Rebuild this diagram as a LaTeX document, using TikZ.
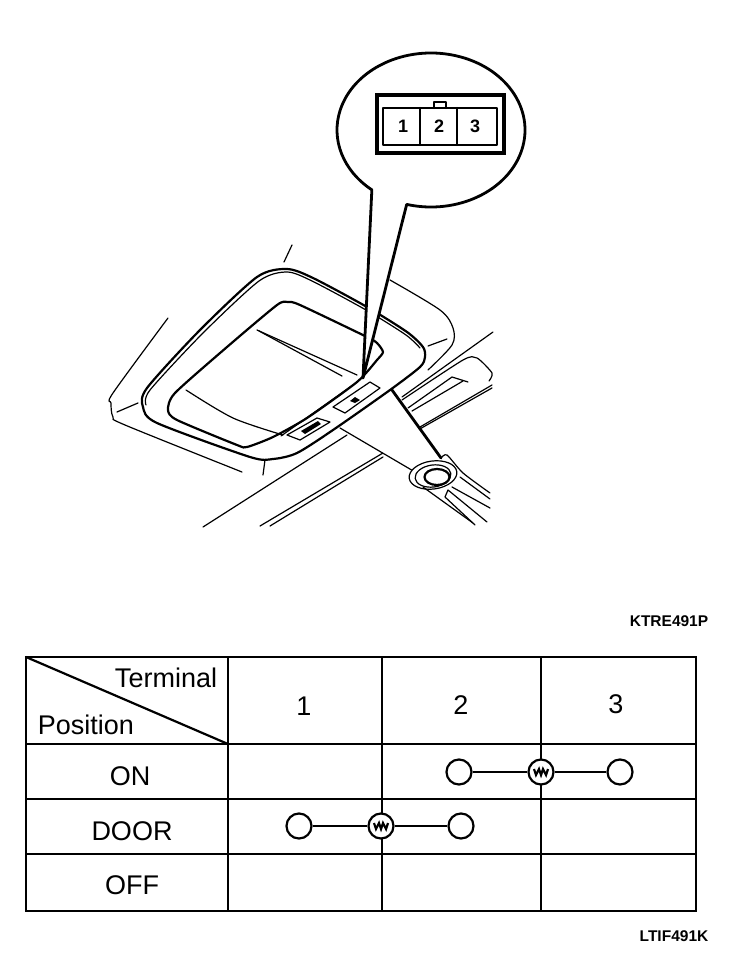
\documentclass[tikz,border=0pt]{standalone}
\usepackage{fontspec}
\setmainfont{Liberation Sans}
\usetikzlibrary{calc}
\tikzstyle{TableText}=[inner sep=0pt,font=\fontsize{27}{30}\selectfont]
\tikzstyle{CodeText}=[inner sep=0pt,font=\bfseries\fontsize{15.5}{18}\selectfont]
\tikzstyle{PinText}=[inner sep=0pt,font=\bfseries\fontsize{18}{20}\selectfont]
\tikzstyle{TableLine}=[line width=2.8pt]
\tikzstyle{NodeTerm}=[circle,draw,fill=white,line width=2.2pt,inner sep=0pt,minimum size=25pt]
\tikzstyle{NodeLamp}=[NodeTerm,path picture={
    \fill[shift={(path picture bounding box.center)}](-10,-8)rectangle(10,-2);
    \draw[shift={(path picture bounding box.center)},line width=2.2pt](-7,-3)--(-5,3)--(-2,-3)--(0,3)--(2,-3)--(5,3)--(7,-3);}]
\tikzstyle{EdgeTerm}=[line width=2.4pt]
\tikzstyle{Thin}=[line width=1.2pt,line join=round,line cap=round]
\tikzstyle{Mid}=[line width=2.2pt,line join=round,line cap=round]
\tikzstyle{Bold}=[line width=2.8pt,line join=round,line cap=round]
\begin{document}
\begin{tikzpicture}[x=1pt,y=-1pt]
    \useasboundingbox(0,0)rectangle(752,958);
    \draw[Thin](292,245)--(284,262);
    \draw[Thin]plot[smooth,tension=.5]coordinates{(168,318)(113,393)(111,403)(113,417)(125,425)(242,472)};
    \draw[Thin](117,412)--(138,403);
    \draw[Thin](265,460)--(263,475);
    \draw[Thin]plot[smooth,tension=.5]coordinates{(390,280)(440,310)(453,328)(452,345)(428,370)};
    \draw[Thin](428,346)--(447,339);
    \draw[Thin](493,332)--(402,397);
    \draw[Thin](347,435)--(203,527);
    \draw[Thin](383,453)--(260,526);
    \draw[Thin](383,457)--(270,526);
    \draw[Thin]plot[smooth,tension=.4]coordinates{(402,400)(463,360)(477,358)(492,373)(489,381)};
    \draw[Thin](492,385)--(420,427);
    \draw[Thin](492,388)--(418,430);
    \draw[Thin](408,408)--(452,377)--(468,382);
    \draw[Thin](412,411)--(463,381);
    \draw[Thin](257,330)--(357,375);
    \draw[Thin](259,331)--(342,376);
    \draw[Thin]plot[smooth,tension=.5]coordinates{(186,390)(233,418)(283,435)};
    \coordinate(LeadA)at(392,390);
    \coordinate(LeadB)at(441,458);
    \coordinate(LeadC)at(415,472);
    \coordinate(LeadD)at(340,428);
    \fill[white](LeadA)--(LeadB)--(LeadC)--(LeadD)--cycle;
    \draw[Bold](LeadA)--(LeadB);
    \draw[Thin](LeadD)--(LeadC);
    \draw[Mid]plot[smooth cycle,tension=.45]coordinates{(287,269)(313,278)(367,307)(407,332)(423,347)(425,357)(420,367)
        (390,390)(333,430)(297,453)(273,459)(250,457)(157,423)(143,407)(147,388)(200,330)(257,277)};
    \draw[Thin]plot[smooth,tension=.45]coordinates{(146,405)(150,390)(203,333)(259,281)(287,272)(312,281)(366,310)(406,335)(420,348)};
    \draw[Mid]plot[smooth cycle,tension=.4]coordinates{(288,302)(300,305)(367,337)(377,343)(383,352)(377,360)(357,382)
        (307,418)(273,437)(247,447)(237,445)(177,420)(168,410)(175,393)(227,347)(277,305)};
    \draw[Thin](281,436)--(353,385);
    \draw[Thin,fill=white](333,407)--(370,382)--(380,388)--(345,413)--cycle;
    \fill(350,401)--(355,397)--(360,400)--(355,403)--cycle;
    \draw[Thin,fill=white](287,435)--(317,418)--(330,422)--(300,440)--cycle;
    \fill(301,431)--(318,421)--(321,424)--(305,434)--cycle;
    \draw[Thin,fill=white](433,475)ellipse[x radius=24,y radius=14,rotate=8];
    \draw[Thin](433,476)ellipse[x radius=18,y radius=11,rotate=8];
    \draw[Mid](437,477)ellipse[x radius=12.5,y radius=8];
    \draw[Thin]plot[smooth,tension=.4]coordinates{(441,458)(447,455)(463,473)(490,493)};
    \draw[Thin](460,477)--(490,499);
    \draw[Thin](423,487)--(473,523);
    \draw[Thin](487,522)--(448,490)--(445,497)--(475,525);
    \draw[Thin](452,487)--(490,508);
    \coordinate(TailTip)at(363,378);
    \coordinate(CalloutC)at(431,130);
    \draw[Bold,fill=white](TailTip)--($(CalloutC)+(105:94 and 77)$)arc[start angle=105,end angle=-231,x radius=94,y radius=77]--cycle;
    \draw[line width=3.4pt](377,95)rectangle(504,153);
    \draw[Bold](383,108)rectangle(497,145);
    \draw[Mid](420,108)--(420,145);
    \draw[Mid](457,108)--(457,145);
    \draw[Mid](434,108)--(434,102)--(446,102)--(446,108);
    \node[PinText](pina)at(403,126){1};
    \node[PinText](pinb)at(439,126){2};
    \node[PinText](pinc)at(475,126){3};
    \node[CodeText](codetop)at(669,621){KTRE491P};
    \draw[TableLine](26,657)rectangle(696,911);
    \foreach \y in{744,799,854}
        \draw[TableLine](26,\y)--(696,\y);
    \foreach \x in{228,382,541}
        \draw[TableLine](\x,657)--(\x,911);
    \draw[Mid](26,657)--(228,744);
    \node[TableText](terminal)at(166,678){Terminal};
    \node[TableText](position)at(86,725){Position};
    \node[TableText](one)at(304,706){1};
    \node[TableText](two)at(461,705){2};
    \node[TableText](three)at(616,704){3};
    \node[TableText](on)at(130,776){ON};
    \node[TableText](door)at(132,831){DOOR};
    \node[TableText](off)at(132,885){OFF};
    \node[NodeTerm](ona)at(459,772){};
    \node[NodeLamp](onb)at(541,772){};
    \node[NodeTerm](onc)at(620,772){};
    \node[NodeTerm](doora)at(299,826){};
    \node[NodeLamp](doorb)at(381,826){};
    \node[NodeTerm](doorc)at(461,826){};
    \draw[EdgeTerm](ona)--(onb);
    \draw[EdgeTerm](onb)--(onc);
    \draw[EdgeTerm](doora)--(doorb);
    \draw[EdgeTerm](doorb)--(doorc);
    \node[CodeText](codebottom)at(674,936){LTIF491K};
\end{tikzpicture}
\end{document}
